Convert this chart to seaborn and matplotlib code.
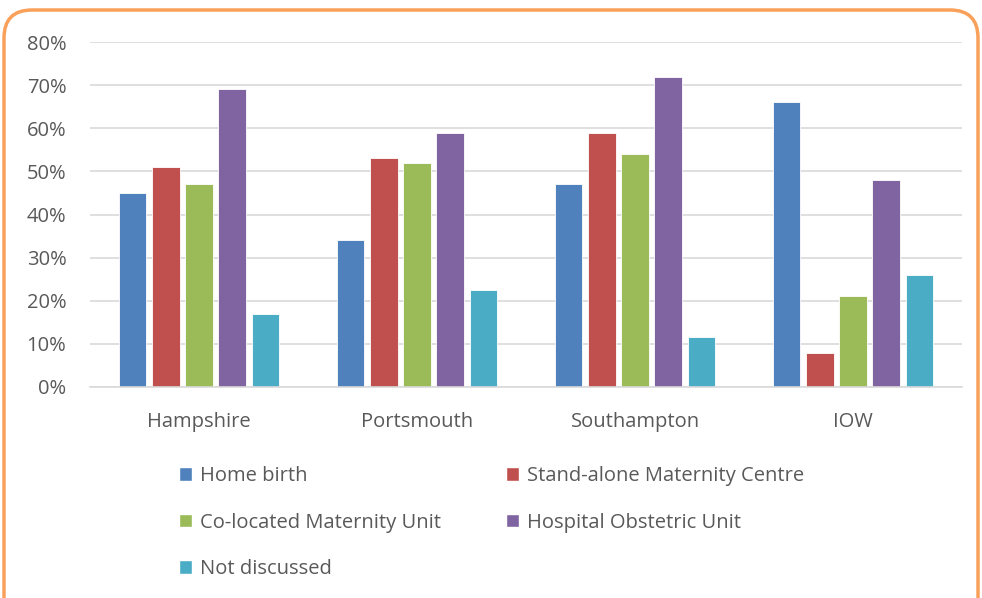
import numpy as np
import pandas as pd
import matplotlib
matplotlib.use("Agg")
import matplotlib.pyplot as plt
from matplotlib.patches import FancyBboxPatch, Patch
from matplotlib.transforms import IdentityTransform
from matplotlib.ticker import PercentFormatter
import seaborn as sns

regions = ['Hampshire', 'Portsmouth', 'Southampton', 'IOW']
options = ['Home birth', 'Stand-alone Maternity Centre', 'Co-located Maternity Unit',
           'Hospital Obstetric Unit', 'Not discussed']
home_birth = [0.45, 0.34, 0.47, 0.66]
stand_alone = [0.51, 0.53, 0.59, 0.08]
co_located = [0.47, 0.52, 0.54, 0.21]
hospital = [0.69, 0.59, 0.72, 0.48]
not_discussed = [0.17, 0.226, 0.117, 0.26]
colors = ['#4F81BD', '#C0504D', '#9BBB59', '#8064A2', '#4BACC6']

series = [home_birth, stand_alone, co_located, hospital, not_discussed]
rows = []
for opt, vals in zip(options, series):
    for reg, v in zip(regions, vals):
        rows.append({'region': reg, 'option': opt, 'share': v})
df = pd.DataFrame(rows)

sns.set_style('white')
plt.rcParams['font.family'] = ['Open Sans', 'DejaVu Sans']
text_color = '#595959'

fig = plt.figure(figsize=(9.82, 5.98), dpi=100)
ax = fig.add_axes([90/982, 1 - 387/598, 872/982, 345/598])

sns.barplot(data=df, x='region', y='share', hue='option', hue_order=options,
            palette=colors, saturation=1, width=0.76, gap=0.17, ax=ax, legend=False,
            edgecolor='white', linewidth=0.6)

ax.set_ylim(0, 0.8)
ax.set_yticks(np.arange(0, 0.81, 0.1))
ax.yaxis.set_major_formatter(PercentFormatter(1.0, decimals=0))
ax.set_xlabel('')
ax.set_ylabel('')
ax.grid(axis='y', color='#D9D9D9', linewidth=1.2)
ax.set_axisbelow(True)
for side in ['top', 'right', 'left']:
    ax.spines[side].set_visible(False)
ax.spines['bottom'].set_color('#D9D9D9')
ax.spines['bottom'].set_linewidth(1.2)
ax.tick_params(axis='both', length=0, colors=text_color)
ax.tick_params(axis='x', pad=18, labelsize=14.5)
ax.tick_params(axis='y', pad=17, labelsize=14.5)

# legend, column-wise order so rows read like the original
order = [0, 2, 4, 1, 3]
handles = [Patch(facecolor=colors[i]) for i in order]
labels = [options[i] for i in order]
fig.legend(handles, labels, ncol=2, loc='upper left', bbox_to_anchor=(179/982, 1 - 466/598),
           frameon=False, fontsize=14.5, labelcolor=text_color, handlelength=0.65,
           handleheight=0.65, handletextpad=0.4, labelspacing=1.32, columnspacing=3.2,
           borderpad=0, borderaxespad=0)

# rounded orange frame
frame = FancyBboxPatch((4, -40), 974, 628, boxstyle='round,pad=0,rounding_size=28',
                       transform=IdentityTransform(), facecolor='none',
                       edgecolor='#F9A15A', linewidth=2.5)
fig.add_artist(frame)

fig.savefig('out.png', dpi=100)
